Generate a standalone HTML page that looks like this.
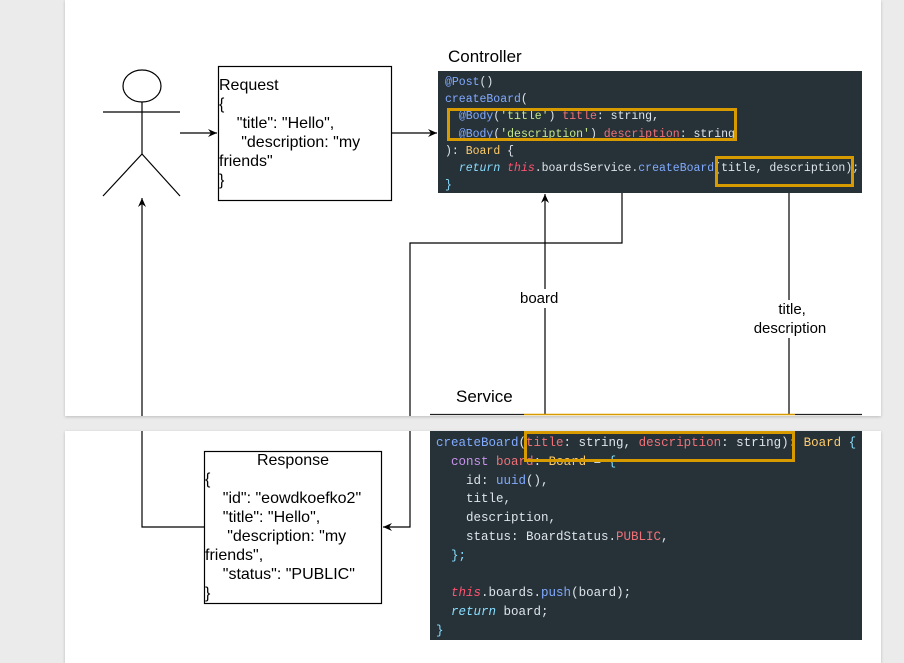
<!DOCTYPE html>
<html><head><meta charset="utf-8"><style>
body{margin:0;width:904px;height:663px;background:#ebebeb;position:relative;overflow:hidden;font-family:"Liberation Sans",sans-serif}
.pg{position:absolute;background:#fff;box-shadow:0 1px 3px rgba(0,0,0,.2)}
.code{position:absolute;background:#263238;font-family:"Liberation Mono",monospace;white-space:pre;color:#dde4ea}
.t{position:absolute;font-size:16px;color:#000;line-height:19px;white-space:pre}
.b{color:#82aaff}.g{color:#c3e88d}.r{color:#f07178}.y{color:#ffcb6b}.p{color:#c792ea}.c{color:#89ddff}.rp{color:#ff5370}
.ob{position:absolute;border:3px solid #d79b00;box-sizing:border-box}
</style></head><body>
<div class="pg" style="left:65px;top:0;width:816px;height:416px"></div>
<div class="pg" style="left:65px;top:431px;width:816px;height:232px"></div>

<div class="code" style="left:438px;top:71px;width:424px;height:122px;font-size:11.5px;line-height:17.2px;padding:3px 0 0 7px;box-sizing:border-box"><span class="b">@Post</span>()
<span class="b">createBoard</span>(
  <span class="b">@Body</span>(<span class="g">'title'</span>) <span class="r">title</span>: string,
  <span class="b">@Body</span>(<span class="g">'description'</span>) <span class="r">description</span>: string
): <span class="y">Board</span> {
  <i class="c">return</i> <i class="rp">this</i>.boardsService.<span class="b">createBoard</span>(title, description);
<span class="c">}</span></div>
<div class="ob" style="left:447px;top:108px;width:290px;height:33px"></div>
<div class="ob" style="left:715px;top:156px;width:139px;height:31px"></div>

<div class="code" style="left:430px;top:431px;width:432px;height:209px;font-size:12.5px;line-height:18.8px;padding:3px 0 0 6px;box-sizing:border-box"><span class="b">createBoard</span>(<span class="r">title</span>: string, <span class="r">description</span>: string): <span class="y">Board</span> <span class="c">{</span>
  <span class="p">const</span> <span class="r">board</span>: <span class="y">Board</span> = <span class="c">{</span>
    id: <span class="b">uuid</span>(),
    title,
    description,
    status: BoardStatus.<span class="r">PUBLIC</span>,
  <span class="c">};</span>

  <i class="rp">this</i>.boards.<span class="b">push</span>(board);
  <i class="c">return</i> board;
<span class="c">}</span></div>
<div class="ob" style="left:524px;top:431px;width:271px;height:31px"></div>

<svg width="904" height="663" style="position:absolute;left:0;top:0">
<defs><marker id="a" markerWidth="10" markerHeight="10" refX="9" refY="5" orient="auto" markerUnits="userSpaceOnUse"><path d="M0,1 L9,5 L0,9 L3,5z" fill="#000"/></marker></defs>
<g stroke="#000" stroke-width="1.2" fill="none">
<ellipse cx="142" cy="86" rx="19" ry="16" fill="#fff"/>
<line x1="142" y1="102" x2="142" y2="154"/>
<line x1="103" y1="112" x2="180" y2="112"/>
<line x1="142" y1="154" x2="103" y2="196"/>
<line x1="142" y1="154" x2="180" y2="196"/>
<line x1="180" y1="133" x2="217" y2="133" marker-end="url(#a)"/>
<rect x="218.5" y="66.5" width="173" height="134" fill="#fff"/>
<line x1="391" y1="133" x2="437" y2="133" marker-end="url(#a)"/>
<line x1="142" y1="416" x2="142" y2="198" marker-end="url(#a)"/>
<polyline points="142,431 142,527 204,527"/>
<polyline points="622,193 622,243 410,243 410,416"/>
<polyline points="410,431 410,527 383,527" marker-end="url(#a)"/>
<line x1="545" y1="414" x2="545" y2="194" marker-end="url(#a)"/>
<line x1="789" y1="193" x2="789" y2="414"/>
<rect x="204.5" y="451.5" width="177" height="152" fill="#fff"/>
</g>
<line x1="430" y1="414.5" x2="524" y2="414.5" stroke="#222" stroke-width="1.2"/>
<line x1="524" y1="414.5" x2="795" y2="414.5" stroke="#d79b00" stroke-width="1.5"/>
<line x1="795" y1="414.5" x2="862" y2="414.5" stroke="#222" stroke-width="1.2"/>
</svg>

<div class="t" style="left:448px;top:47px;font-size:17px">Controller</div>
<div class="t" style="left:456px;top:387px;font-size:17px">Service</div>
<div class="t" style="left:219px;top:76px">Request
{
    "title": "Hello",
     "description: "my
friends"
}</div>
<div class="t" style="left:520px;top:289px;background:#fff;font-size:15px">board</div>
<div class="t" style="left:745px;top:300px;background:#fff;font-size:15px;text-align:center;line-height:19px;width:90px"> title,
description</div>
<div class="t" style="left:205px;top:451px;width:176px;text-align:center">Response</div>
<div class="t" style="left:205px;top:470px">{
    "id": "eowdkoefko2"
    "title": "Hello",
     "description: "my
friends",
    "status": "PUBLIC"
}</div>
</body></html>
